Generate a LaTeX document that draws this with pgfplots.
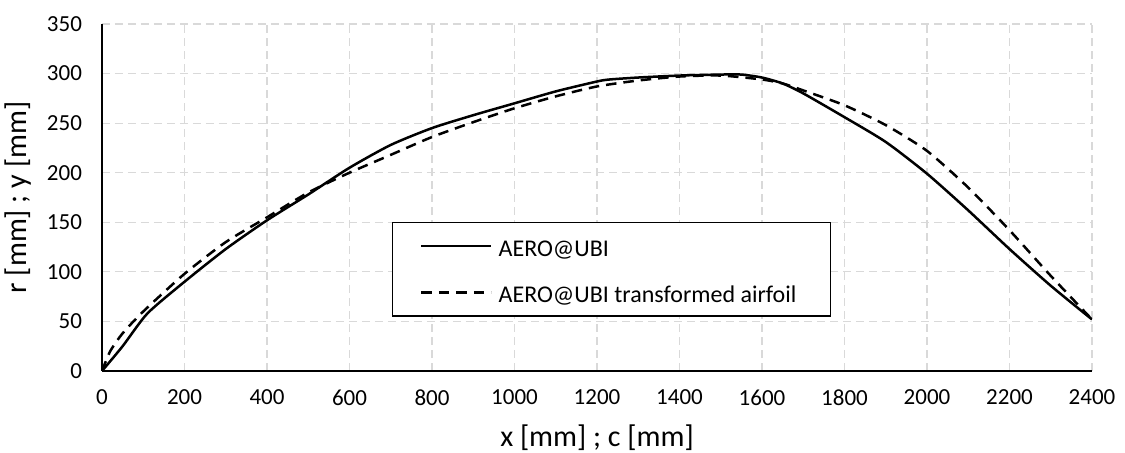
\documentclass[border=0pt]{standalone}
\usepackage{pgfplots}
\pgfplotsset{compat=1.18}
\usepackage{fontspec}
\setmainfont{Carlito}
\begin{document}
\begin{tikzpicture}
\path[use as bounding box] (-51pt,-41pt) rectangle (511.5pt,185.5pt);
\begin{axis}[
  at={(0,0)}, anchor=origin,
  scale only axis, width=495pt, height=173.5pt,
  xmin=0, xmax=2400, ymin=0, ymax=350,
  xtick={0,200,...,2400}, ytick={0,50,...,350},
  axis x line=bottom, axis y line=left,
  axis line style={-, black, line width=1.15pt},
  major tick length=0pt,
  grid=major,
  major grid style={draw=black!15, dash pattern=on 4pt off 2.5pt, line width=0.6pt},
  /pgf/number format/assume math mode=true,
  /pgf/number format/1000 sep={},
  tick label style={font=\fontsize{11.5}{13}\selectfont},
  xticklabel style={yshift=-6pt},
  yticklabel style={xshift=-6.5pt},
  xlabel={x [mm] ; c [mm]}, ylabel={r [mm] ; y [mm]},
  xlabel style={at={(axis description cs:0.5,0)}, anchor=center, yshift=-33.5pt, font=\fontsize{15}{18}\selectfont},
  ylabel style={at={(axis description cs:-0.0848,0.5)}, anchor=center, rotate=0, font=\fontsize{15}{18}\selectfont},
  legend style={at={(axis cs:702,54.8)}, anchor=south west, draw=black, line width=0.6pt,
    font=\fontsize{12}{14}\selectfont, inner xsep=14pt, inner ysep=1.7pt, row sep=3.3pt,
    nodes={text height=11pt, text depth=1pt, inner xsep=3pt, inner ysep=4pt}},
  legend cell align=left,
  legend image code/.code={\draw[#1, line width=1.25pt] (0pt,0pt) -- (35pt,0pt);},
]
\addplot[black, line width=1.25pt, smooth, tension=0.4] coordinates {
(0,0) (50,25) (110,58) (200,90) (300,123) (400,152) (500,178) (600,205) (700,228)
(800,245) (900,258) (1000,270) (1100,282) (1200,292) (1230,294) (1300,296) (1400,298)
(1500,299) (1550,299) (1600,296) (1650,290) (1700,280) (1800,256) (1900,231) (2000,199)
(2100,162) (2200,123) (2300,86) (2400,52)};
\addlegendentry{AERO@UBI}
\addplot[black, line width=1.25pt, dash pattern=on 5.25pt off 3.5pt, smooth, tension=0.4] coordinates {
(0,0) (20,20) (50,38) (100,60) (200,98) (300,130) (400,155) (500,180) (600,200) (700,218)
(800,236) (900,251) (1000,265) (1100,277) (1200,287) (1300,293) (1400,297) (1500,298)
(1600,294) (1650,290) (1700,283) (1800,268) (1900,248) (2000,222) (2100,185) (2200,142)
(2300,96) (2400,52)};
\addlegendentry{AERO@UBI transformed airfoil}
\end{axis}
\end{tikzpicture}
\end{document}
